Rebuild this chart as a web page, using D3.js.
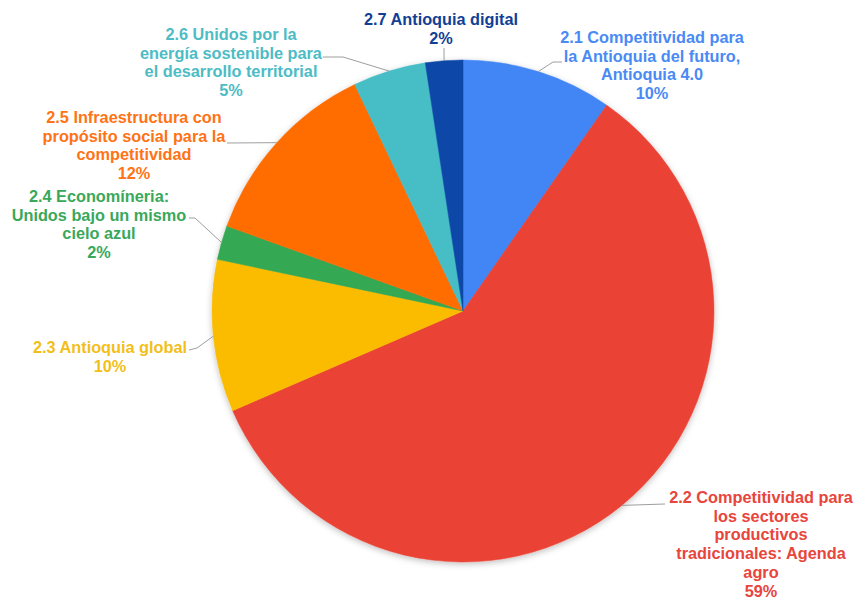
<!DOCTYPE html>
<html><head><meta charset="utf-8">
<script src="https://cdn.jsdelivr.net/npm/d3@7"></script>
<style>
html,body{margin:0;padding:0;background:#fff;}
svg{display:block;}
text{font-family:"Liberation Sans",Arial,sans-serif;font-weight:bold;font-size:16.3px;}
</style></head>
<body>
<svg id="chart" width="854" height="598"></svg>
<script>
// ---- data ----
const categories = [
  ["2.1 Competitividad para","la Antioquia del futuro,","Antioquia 4.0"],
  ["2.2 Competitividad para","los sectores","productivos","tradicionales: Agenda","agro"],
  ["2.3 Antioquia global"],
  ["2.4 Economíneria:","Unidos bajo un mismo","cielo azul"],
  ["2.5 Infraestructura con","propósito social para la","competitividad"],
  ["2.6 Unidos por la","energía sostenible para","el desarrollo territorial"],
  ["2.7 Antioquia digital"]
];
const values = [9.7, 58.8, 9.8, 2.2, 12.4, 4.7, 2.4];
const colors = ["#4285f4","#ea4335","#fbbc04","#34a853","#ff6d01","#46bdc6","#0b47a8"];
const textColors = ["#4a8af4","#e8453c","#f2bf1a","#3aa85a","#ff7316","#4dbcc5","#123f95"];

// ---- layout (positions only) ----
const cx = 463, cy = 311, r = 251;
const labelLayout = [
  {x:652, y:37,  knee:[553,62],  end:[562,62]},
  {x:761, y:497, knee:null,      end:[665,504]},
  {x:110, y:347, knee:[197,348], end:[189,350]},
  {x:99,  y:196, knee:[195,218], end:[189,218]},
  {x:134, y:117, knee:null,      end:[227,143]},
  {x:231, y:34,  knee:[343,57],  end:[323,57]},
  {x:441, y:19,  knee:null,      end:[444,48]}
];
const lineH = 18.7;

const svg = d3.select("#chart");
const defs = svg.append("defs");
const f = defs.append("filter").attr("id","sh").attr("x","-10%").attr("y","-10%").attr("width","120%").attr("height","120%");
f.append("feDropShadow").attr("dx",0).attr("dy",2).attr("stdDeviation",3).attr("flood-color","#000").attr("flood-opacity",0.25);

const total = d3.sum(values);
const pie = d3.pie().sort(null).value(d => d)(values);
const arc = d3.arc().innerRadius(0).outerRadius(r);

const g = svg.append("g").attr("transform", `translate(${cx},${cy})`);
const slices = g.append("g").attr("filter","url(#sh)");
slices.selectAll("path").data(pie).join("path")
  .attr("d", arc)
  .attr("fill", (d,i) => colors[i])
  .attr("stroke", (d,i) => colors[i])
  .attr("stroke-width", 0.5);

const fmt = d3.format(".0%");

// leader lines
pie.forEach((d,i) => {
  const L = labelLayout[i];
  const mid = (d.startAngle + d.endAngle)/2;
  const p = [cx + r*Math.sin(mid), cy - r*Math.cos(mid)];
  const pts = [p];
  if (L.knee) pts.push(L.knee);
  pts.push(L.end);
  svg.append("path")
    .attr("d", d3.line()(pts))
    .attr("fill","none")
    .attr("stroke","#9e9e9e")
    .attr("stroke-width",1);
});

// labels
pie.forEach((d,i) => {
  const L = labelLayout[i];
  const lines = categories[i].concat([fmt(values[i]/total)]);
  const t = svg.append("text")
    .attr("text-anchor","middle")
    .attr("fill", textColors[i]);
  lines.forEach((s,k) => {
    t.append("tspan").attr("x", L.x).attr("y", L.y + 6 + k*lineH).text(s);
  });
});
</script>
</body></html>
